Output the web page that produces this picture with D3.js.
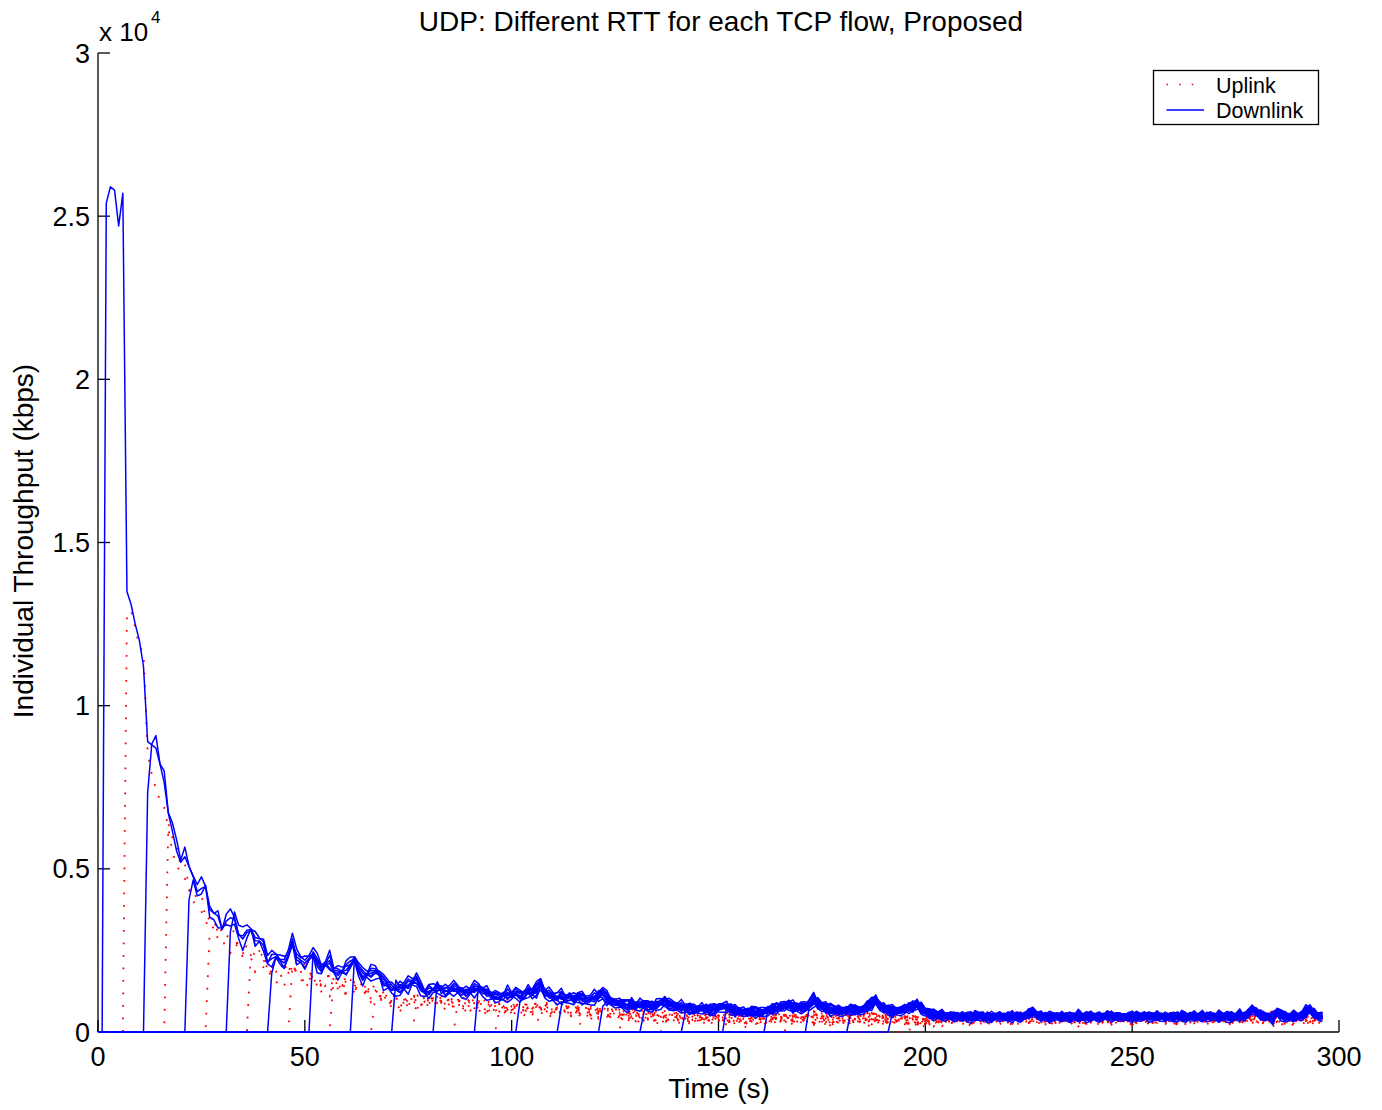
<!DOCTYPE html>
<html>
<head>
<meta charset="utf-8">
<script src="https://cdn.jsdelivr.net/npm/d3@7/dist/d3.min.js"></script>
<style>
  html, body { margin: 0; padding: 0; background: #fff; }
  svg { display: block; }
  text { font-family: "Liberation Sans", Arial, Helvetica, sans-serif; fill: #000; }
</style>
</head>
<body>
<svg id="chart" width="1382" height="1110"></svg>
<script>
// Per-flow throughput (kbps) sampled once per second, t = 0 .. 296.
// Downlink: typical per-flow value of the active downlink flows.
const downlink = [
  0, 0, 25400, 25900, 25800, 24700, 25700, 13500, 13100, 12500,
  12000, 11200, 8900, 8800, 8700, 8200, 7650, 6700, 6150, 5550,
  5200, 5370, 5070, 4760, 4300, 4400, 4450, 3750, 3650, 3550,
  3150, 3400, 3500, 3450, 3000, 2850, 3050, 3100, 2800, 2790,
  2650, 2150, 2250, 2310, 2200, 2120, 2350, 2770, 2300, 2200,
  2110, 2250, 2400, 2100, 1900, 2050, 2110, 1850, 1800, 1850,
  1900, 2050, 2200, 1900, 1700, 1750, 1800, 1850, 1750, 1520,
  1450, 1350, 1290, 1320, 1390, 1450, 1520, 1590, 1350, 1190,
  1250, 1300, 1340, 1280, 1240, 1280, 1340, 1300, 1220, 1190,
  1250, 1320, 1340, 1250, 1190, 1120, 1080, 1050, 1100, 1150,
  1120, 1180, 1100, 1150, 1250, 1200, 1300, 1490, 1200, 1150,
  1080, 1050, 1100, 1020, 1060, 1000, 1080, 1040, 980, 1000,
  1050, 1120, 1190, 1050, 950, 900, 880, 850, 820, 860,
  800, 830, 850, 800, 780, 820, 880, 930, 850, 800,
  780, 760, 740, 720, 700, 690, 720, 700, 680, 700,
  740, 770, 760, 700, 660, 640, 620, 600, 640, 620,
  600, 620, 660, 700, 740, 770, 800, 830, 780, 760,
  740, 760, 850, 1000, 860, 780, 740, 700, 680, 650,
  640, 660, 700, 680, 650, 700, 780, 880, 980, 800,
  720, 680, 650, 640, 660, 700, 740, 780, 850, 720,
  620, 560, 540, 520, 500, 480, 500, 470, 480, 460,
  470, 460, 480, 500, 470, 450, 460, 480, 470, 460,
  470, 480, 470, 460, 500, 560, 620, 520, 480, 470,
  460, 470, 480, 460, 470, 450, 470, 490, 470, 460,
  480, 470, 460, 470, 500, 480, 460, 470, 450, 470,
  480, 460, 470, 490, 470, 460, 480, 470, 450, 470,
  460, 470, 480, 460, 470, 490, 470, 460, 470, 480,
  470, 460, 480, 470, 460, 480, 500, 470, 560, 700,
  620, 520, 480, 470, 400, 620, 520, 470, 460, 480,
  470, 500, 640, 700, 560, 480, 470
];

// Uplink: typical per-flow value of the active uplink flows.
const uplink = [
  0, 0, 0, 0, 0, 0, 0, 12850, 12900, 12400,
  11800, 11650, 8550, 7900, 7450, 7100, 6900, 6250, 5500, 5100,
  4900, 4700, 4350, 4000, 3850, 3700, 3350, 3300, 3230, 3100,
  3000, 2950, 2900, 2870, 2600, 2410, 2500, 2460, 2360, 2300,
  2200, 2000, 1800, 1750, 1690, 1800, 1900, 1950, 2000, 1850,
  1750, 1700, 1690, 1550, 1390, 1450, 1500, 1490, 1450, 1420,
  1390, 1400, 1380, 1340, 1300, 1250, 1190, 1150, 1100, 1050,
  1000, 950, 920, 880, 900, 950, 980, 980, 960, 950,
  970, 980, 980, 950, 920, 900, 890, 880, 870, 880,
  860, 840, 820, 800, 780, 790, 770, 760, 750, 740,
  730, 740, 720, 710, 720, 730, 740, 760, 730, 700,
  690, 680, 670, 660, 650, 640, 650, 630, 620, 610,
  600, 620, 630, 600, 580, 560, 550, 540, 530, 520,
  510, 500, 490, 480, 470, 480, 470, 470, 460, 470,
  460, 450, 460, 450, 440, 450, 440, 430, 440, 450,
  440, 430, 420, 430, 420, 410, 420, 410, 420, 430,
  420, 410, 420, 430, 420, 430, 440, 430, 420, 410,
  420, 430, 440, 450, 430, 420, 410, 420, 410, 420,
  410, 420, 430, 420, 410, 420, 430, 440, 430, 420,
  410, 400, 410, 420, 410, 400, 390, 380, 370, 350,
  340, 350, 370, 390, 400, 410, 420, 420, 430, 420,
  430, 420, 410, 420, 430, 440, 430, 420, 430, 440,
  430, 420, 430, 440, 430, 420, 430, 440, 430, 420,
  410, 420, 430, 440, 430, 420, 430, 420, 410, 420,
  430, 440, 430, 420, 430, 440, 430, 420, 430, 420,
  430, 440, 430, 420, 430, 440, 430, 420, 430, 440,
  430, 420, 430, 440, 430, 420, 430, 440, 430, 420,
  430, 440, 430, 420, 430, 440, 430, 420, 430, 440,
  430, 420, 430, 440, 430, 420, 430, 440, 430, 420,
  430, 440, 430, 420, 430, 440, 430
];

// Two second-by-second fluctuation patterns shared by the flows (unitless).
const fluctA = [
  0, 0, .3, -.5, .8, -.2, .6, -.9, .4, .1,
  -.7, .5, -.3, .9, -.6, .2, -.8, .7, 0, -.4,
  .6, -.9, .3, .5, -.2, -.7, .8, -.1, .4, -.6,
  .9, -.3, -.8, .2, .6, -.5, .1, .7, -.9, .3,
  -.2, .8, -.6, .4, -.1, -.7, .5, .9, -.4, .2,
  -.8, .3, .6, -.5, 0, .7, -.9, .4, -.3, .8,
  -.6, .1, .5, -.2, -.8, .9, -.4, .3, .6, -.7,
  .2, -.1, .8, -.5, .4, -.9, .7, -.3, 0, .6,
  -.8, .5, -.2, .9, -.6, .3, -.7, .1, .8, -.4,
  .5, -.9, .2, .6, -.3, .7, -.5, -.1, .9, -.8,
  .4, 0, -.6, .8, -.2, .5, -.9, .3, .7, -.4,
  -.1, .6, -.8, .2, .9, -.5, .4, -.7, .1, .3,
  -.6, .8, -.2, -.9, .5, .7, -.3, 0, .6, -.8,
  .9, -.4, .2, -.1, .7, -.6, .3, .8, -.5, -.2,
  .4, -.9, .6, .1, -.7, .5, -.3, .9, -.8, .2,
  0, .6, -.4, .8, -.9, .3, -.1, .7, -.5, .4,
  -.6, .2, .9, -.8, .5, -.3, .1, .6, -.7, .8,
  -.2, -.5, .4, .9, -.6, .3, -.9, .7, 0, -.4,
  .8, -.1, .5, -.7, .2, .6, -.8, .3, -.3, .9,
  -.5, .4, -.9, .1, .7, -.2, .6, -.6, .8, -.4,
  .3, -.8, .5, 0, -.7, .9, -.3, .2, .6, -.5,
  .1, .7, -.9, .4, -.2, .8, -.6, .3, -.1, .5,
  -.7, .9, -.4, .2, .6, -.8, 0, .5, -.3, .7,
  -.9, .1, .8, -.5, .4, -.2, .6, -.7, .3, .9,
  -.6, .2, -.1, .7, -.8, .5, -.4, .1, .8, -.3,
  .6, -.9, .4, -.2, .5, 0, -.7, .9, -.5, .3,
  -.1, .8, -.6, .2, .7, -.4, .3, -.9, .6, -.2,
  .5, -.8, .1, .9, -.3, .4, -.7, .6, -.5, .2,
  .8, -.4, -.1, .6, -.9, .3, .7, -.2, .5, -.6,
  0, .4, -.8, .9, -.3, .1, .7
];
const fluctB = [
  0, 0, -.4, .2, .6, .9, .5, -.1, -.6, -.8,
  -.3, .2, .7, .4, -.2, -.9, -.5, .1, .6, .8,
  .3, -.4, -.7, -.2, .5, .9, .2, -.3, -.8, -.5,
  .1, .6, .4, -.2, -.7, -.9, -.3, .4, .8, .5,
  -.1, -.6, -.4, .3, .9, .6, -.2, -.8, -.5, .2,
  .7, .3, -.4, -.9, -.1, .5, .8, .2, -.6, -.3,
  .4, .9, .1, -.5, -.8, -.2, .6, .7, -.1, -.7,
  -.4, .3, .8, .5, -.3, -.9, -.2, .4, .9, .1,
  -.5, -.7, .2, .6, .3, -.4, -.8, -.1, .7, .5,
  -.2, -.9, -.3, .5, .8, .2, -.6, -.4, .3, .9,
  .1, -.7, -.5, .4, .6, -.2, -.8, -.3, .5, .7,
  0, -.6, -.9, .2, .8, .4, -.3, -.7, .1, .6,
  .9, -.1, -.5, -.8, .3, .7, .2, -.4, -.9, 0,
  .5, .8, -.2, -.6, -.3, .4, .9, .1, -.7, -.5,
  .2, .6, .4, -.8, -.2, .3, .7, -.1, -.6, -.9,
  .3, .8, .5, -.4, -.7, .1, .6, .2, -.5, -.8,
  -.1, .7, .9, -.3, -.6, .2, .5, -.2, -.9, .4,
  .8, .1, -.5, -.7, .3, .6, -.1, -.8, -.4, .5,
  .9, .2, -.6, -.3, .4, .7, -.2, -.9, .1, .6,
  .3, -.5, -.8, .2, .9, .4, -.4, -.6, 0, .7,
  .5, -.3, -.9, -.1, .6, .8, -.2, -.7, .3, .4,
  -.6, -.8, .1, .7, .5, -.4, -.9, .2, .8, 0,
  -.5, -.7, .3, .9, .2, -.3, -.6, .4, .7, -.1,
  -.8, -.4, .5, .6, -.2, -.9, .1, .8, .3, -.5,
  -.7, .2, .9, .4, -.3, -.8, 0, .6, .5, -.4,
  -.9, .1, .7, .3, -.6, -.5, .2, .8, .4, -.2,
  -.7, -.3, .6, .9, -.1, -.8, .3, .5, -.4, -.6,
  .2, .7, .1, -.5, -.9, .4, .8, -.2, -.3, .6,
  .5, -.7, -.4, .3, .9, 0, -.6, -.8, .2, .7,
  .1, -.5, -.9, .4, .6, -.3, -.2
];

// Start time (s) of each flow; a flow reports 0 until it starts.
const downStart = [1, 11, 21, 31, 41, 51, 61, 71, 81, 91,
                   101, 111, 121, 131, 141, 151, 161, 171, 181, 191];
const upStart   = [6, 16, 26, 36, 46, 56, 66, 76, 86, 96,
                   106, 116, 126, 136, 146, 156, 166, 176, 186, 196];

// First sample of each downlink flow right after it starts (kbps).
const downFirst = [25400, 7320, 4050, 3070, 1800, 2460, 2260, 1590, 1540, 1440,
                   930, 780, 780, 620, 620, 830, 730, 830, 620, 570];

// Per-flow level and weight of each fluctuation pattern (kbps at low load).
const downOffset = [0, 45, -60, 80, -35, 90, -80, 25, -20, 60,
                    -90, 35, -50, 80, 5, -70, 50, -30, 65, -10];
const downWA = [0, -60, 80, -30, 65, -85, 20, 55, -70, 35,
                -45, 90, -15, 60, -40, 70, -65, 30, -90, 45];
const downWB = [0, 35, 65, -80, -20, 60, -90, 40, 15, -65,
                85, -35, 70, -45, 55, -15, 80, -85, 30, -60];
const upOffset = [0, 90, -110, 50, -70, 120, -20, -100, 70, -40,
                  100, -120, 30, -80, 90, -30, 60, -100, 40, -60];
const upWA = [0, -90, 80, -50, 100, -70, 40, -110, 80, -60,
              90, -30, 70, -80, 50, -100, 110, -60, 50, -80];
const upWB = [0, 60, -100, 90, -40, 70, -100, 50, -60, 110,
              -50, 80, -70, 30, -90, 60, -50, 100, -80, 40];

// Axis ticks
const xTicks = [0, 50, 100, 150, 200, 250, 300];
const yTicks = [0, 5000, 10000, 15000, 20000, 25000, 30000];
const yTickLabels = ["0", "0.5", "1", "1.5", "2", "2.5", "3"];

const titleText = "UDP: Different RTT for each TCP flow, Proposed";
const xLabel = "Time (s)";
const yLabel = "Individual Throughput (kbps)";
const legendItems = ["Uplink", "Downlink"];

const svg = d3.select("#chart");
const x = d3.scaleLinear().domain([0, 300]).range([98, 1339]);
const y = d3.scaleLinear().domain([0, 30000]).range([1032, 53]);

const times = d3.range(downlink.length);

// Spread between flows grows with the load level.
const spread = level => 0.8 + level / 2000;

function downSeries(k) {
  const s = downStart[k];
  return times.map(t => {
    if (t <= s) return { t, v: 0 };
    if (t === s + 1) return { t, v: downFirst[k] };
    const base = downlink[t];
    const dev = downOffset[k] + downWA[k] * (fluctA[t] || 0) + downWB[k] * (fluctB[t] || 0);
    return { t, v: base + dev * spread(base) };
  });
}
function upSeries(k) {
  const s = upStart[k];
  return times.map(t => {
    if (t <= s) return { t, v: 0 };
    const base = uplink[t];
    const dev = upOffset[k] + upWA[k] * (fluctA[t] || 0) + upWB[k] * (fluctB[t] || 0);
    return { t, v: Math.max(0, base + dev * spread(base)) };
  });
}

// Axes: left and bottom only, ticks pointing inward
const axisG = svg.append("g");
axisG.append("line")
  .attr("x1", x(0)).attr("x2", x(0)).attr("y1", y(30000)).attr("y2", y(0))
  .attr("stroke", "#000").attr("stroke-width", 1.3);
axisG.append("line")
  .attr("x1", x(0)).attr("x2", x(300)).attr("y1", y(0)).attr("y2", y(0))
  .attr("stroke", "#000").attr("stroke-width", 1.3);
axisG.selectAll(".yt").data(yTicks).enter().append("line")
  .attr("x1", x(0)).attr("x2", x(0) + 12)
  .attr("y1", d => y(d)).attr("y2", d => y(d))
  .attr("stroke", "#000").attr("stroke-width", 1.3);
axisG.selectAll(".xt").data(xTicks).enter().append("line")
  .attr("x1", d => x(d)).attr("x2", d => x(d))
  .attr("y1", y(0)).attr("y2", y(0) - 12)
  .attr("stroke", "#000").attr("stroke-width", 1.3);

axisG.selectAll(".ytl").data(yTicks).enter().append("text")
  .attr("x", 90).attr("y", d => y(d) + 9.5)
  .attr("text-anchor", "end").attr("font-size", 27)
  .text((d, i) => yTickLabels[i]);
axisG.selectAll(".xtl").data(xTicks).enter().append("text")
  .attr("x", d => x(d)).attr("y", 1066)
  .attr("text-anchor", "middle").attr("font-size", 27)
  .text(d => d);

// Exponent marker
svg.append("text").attr("x", 99).attr("y", 41).attr("font-size", 26).text("x 10");
svg.append("text").attr("x", 151).attr("y", 23).attr("font-size", 17).text("4");

// Data lines: uplink (dotted red) under downlink (solid blue)
const line = d3.line().x(d => x(d.t)).y(d => y(d.v));
const dataG = svg.append("g");
upStart.forEach((s, k) => {
  dataG.append("path").datum(upSeries(k))
    .attr("d", line).attr("fill", "none")
    .attr("stroke", "#ff0000").attr("stroke-width", 1.8)
    .attr("stroke-dasharray", "1.8,10.7");
});
downStart.forEach((s, k) => {
  dataG.append("path").datum(downSeries(k))
    .attr("d", line).attr("fill", "none")
    .attr("stroke", "#0000ff").attr("stroke-width", 1.5)
    .attr("stroke-linejoin", "round");
});

// Title and axis labels
svg.append("text").attr("x", 721).attr("y", 31)
  .attr("text-anchor", "middle").attr("font-size", 28).text(titleText);
svg.append("text").attr("x", 719).attr("y", 1098)
  .attr("text-anchor", "middle").attr("font-size", 28).text(xLabel);
svg.append("text").attr("transform", "translate(33,541) rotate(-90)")
  .attr("text-anchor", "middle").attr("font-size", 28).text(yLabel);

// Legend
const lg = svg.append("g");
lg.append("rect").attr("x", 1153.5).attr("y", 70.5).attr("width", 165).attr("height", 54)
  .attr("fill", "#fff").attr("stroke", "#000").attr("stroke-width", 1.3);
const legendStyles = [
  { color: "#ff0000", dash: "1.6,11" },
  { color: "#0000ff", dash: null }
];
legendItems.forEach((name, i) => {
  const ly = 84.5 + i * 25.5;
  lg.append("line").attr("x1", 1166.5).attr("x2", 1204).attr("y1", ly).attr("y2", ly)
    .attr("stroke", legendStyles[i].color).attr("stroke-width", 1.5)
    .attr("stroke-dasharray", legendStyles[i].dash);
  lg.append("text").attr("x", 1216).attr("y", ly + 8)
    .attr("font-size", 21.5).text(name);
});
</script>
</body>
</html>
